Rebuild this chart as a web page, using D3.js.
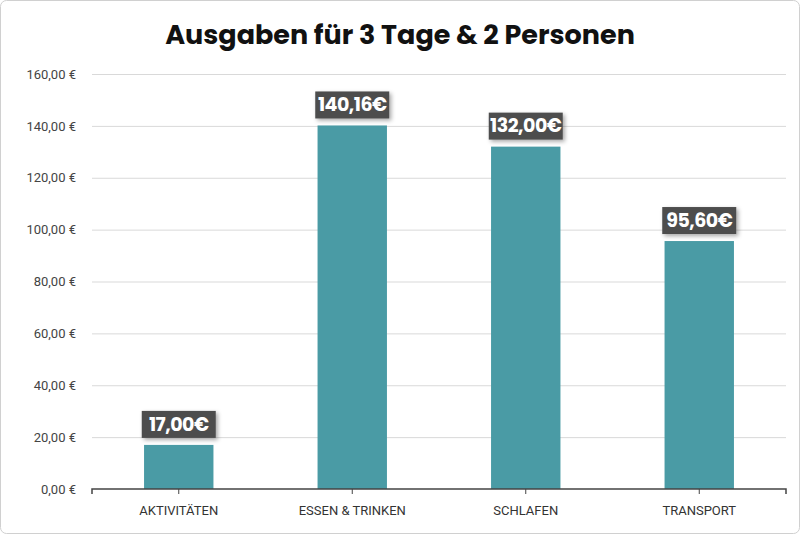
<!DOCTYPE html>
<html><head><meta charset="utf-8">
<script src="https://cdn.jsdelivr.net/npm/d3@7"></script>
<style>body{margin:0;background:#fff}</style></head>
<body><svg id="c" width="800" height="534"></svg>
<script>
const categories=["AKTIVITÄTEN","ESSEN & TRINKEN","SCHLAFEN","TRANSPORT"];
const values=[17.00,140.16,132.00,95.60];
const yTicks=[0,20,40,60,80,100,120,140,160];
const fmt=v=>v.toFixed(2).replace(".",",")+" €";
const svg=d3.select("#c");
const defs=svg.append("defs");
const f=defs.append("filter").attr("id","sh").attr("x","-20%").attr("y","-20%").attr("width","150%").attr("height","160%");
f.append("feDropShadow").attr("dx",2).attr("dy",2).attr("stdDeviation",2).attr("flood-color","#000").attr("flood-opacity",0.35);
svg.append("rect").attr("x",0.5).attr("y",0.5).attr("width",799).attr("height",533).attr("rx",6).attr("fill","#fff").attr("stroke","#d0d0d0");
const x=d3.scaleBand().domain(categories).range([92,786]).paddingInner(0.6).paddingOuter(0.3);
const y=d3.scaleLinear().domain([0,160]).range([489,74]);
svg.append("text").attr("x",400).attr("y",44).attr("text-anchor","middle").attr("font-family","Poppins, Lato, 'Open Sans', sans-serif").attr("font-weight","bold").attr("font-size",27).attr("fill","#111").text("Ausgaben für 3 Tage & 2 Personen");
const ga=svg.append("g").attr("transform","translate(92,0)").call(d3.axisLeft(y).tickValues(yTicks).tickSize(-694).tickFormat(fmt));
ga.select(".domain").remove();
ga.selectAll(".tick line").attr("stroke","#d9d9d9");
ga.selectAll(".tick text").attr("x",-16).attr("font-family","Roboto, sans-serif").attr("font-size",13).attr("fill","#444");
ga.selectAll(".tick").filter(d=>d===0).select("line").remove();
svg.selectAll("rect.bar").data(values).enter().append("rect").attr("class","bar")
 .attr("x",(d,i)=>x(categories[i])).attr("width",x.bandwidth()).attr("y",d=>y(d)).attr("height",d=>y(0)-y(d)).attr("fill","#4a9ba5");
const gx=svg.append("g").attr("transform","translate(0,489)").call(d3.axisBottom(x).tickSize(5).tickPadding(12));
gx.select(".domain").attr("stroke","#444").attr("stroke-width",1.5).attr("d","M92,5V0H786V5");
gx.selectAll(".tick line").attr("stroke","#444");
gx.selectAll(".tick text").attr("font-family","Roboto, sans-serif").attr("font-size",13).attr("fill","#333");
// boundary ticks
const lab=svg.selectAll("g.lab").data(values).enter().append("g").attr("class","lab")
 .attr("transform",(d,i)=>`translate(${x(categories[i])+x.bandwidth()/2},${y(d)-21})`);
lab.append("rect").attr("x",-37).attr("y",-13).attr("width",74).attr("height",27).attr("fill","#4d4d4d").attr("filter","url(#sh)");
lab.append("text").attr("text-anchor","middle").attr("dy","0.36em").attr("font-family","Poppins, Lato, sans-serif").attr("font-weight","bold").attr("font-size",19).attr("fill","#fff").attr("letter-spacing","-0.5").text(d=>fmt(d).replace(" ",""));
</script></body></html>
